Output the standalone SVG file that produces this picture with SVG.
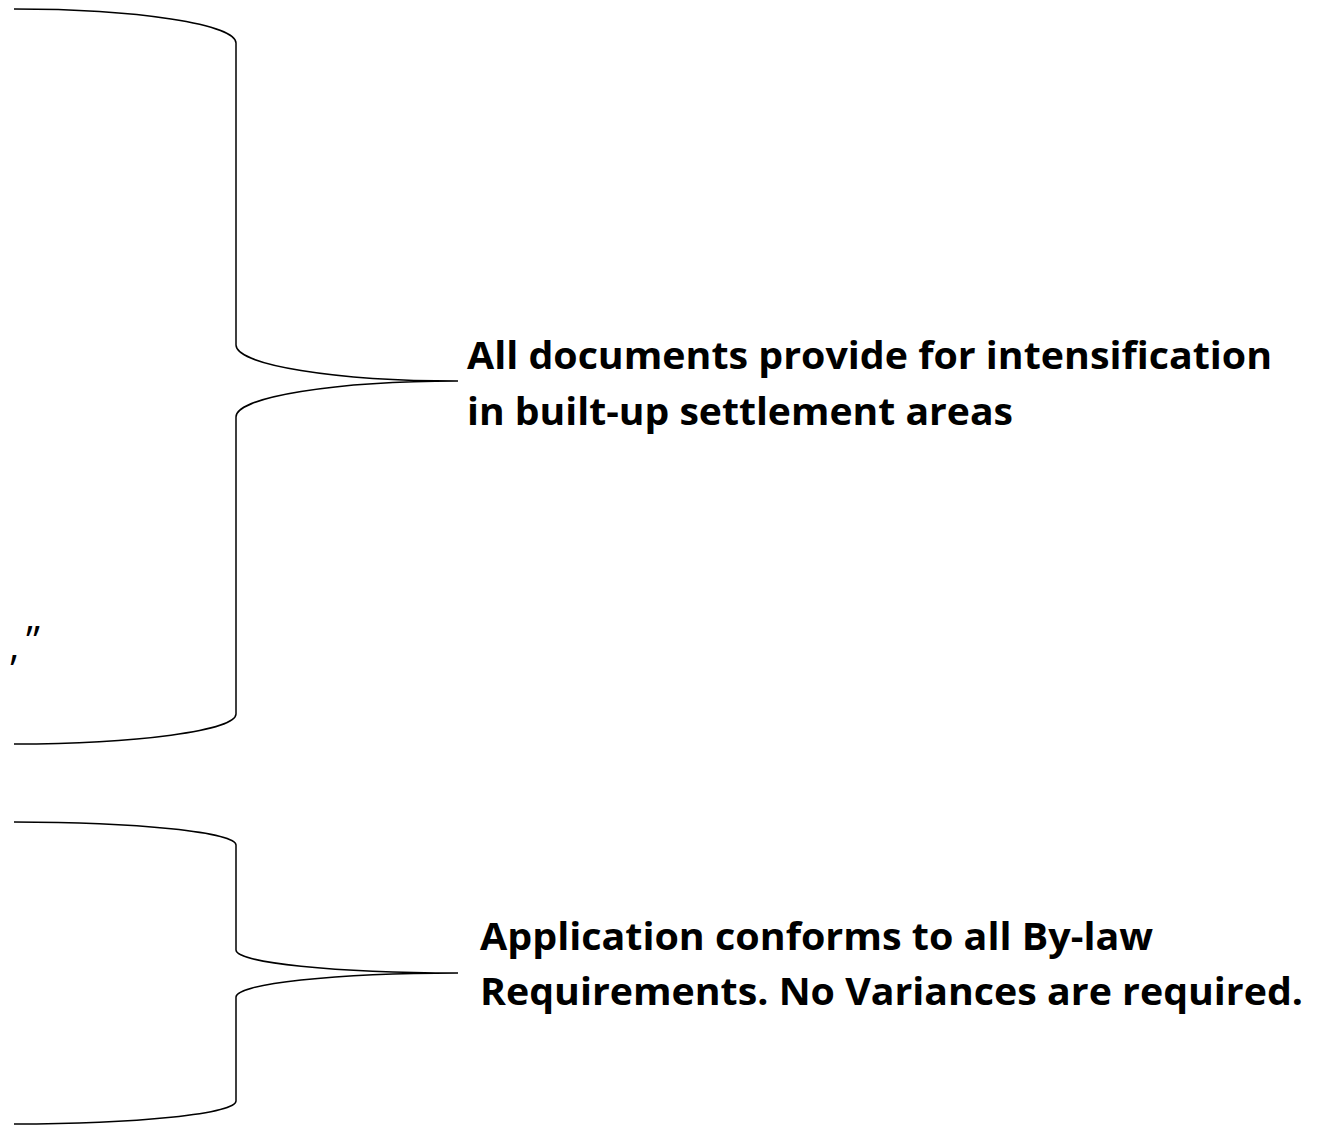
<svg xmlns="http://www.w3.org/2000/svg" width="1319" height="1132" viewBox="0 0 1319 1132">
  <style>
    .brace { fill: none; stroke: #000; stroke-width: 1.5; }
    .lbl { font-family: "Open Sans", Lato, "Liberation Sans", sans-serif; font-weight: bold; font-size: 37px; fill: #000; }
    .frag { font-family: "Open Sans", Lato, "Liberation Sans", sans-serif; font-size: 40px; fill: #000; }
  </style>
  <rect width="1319" height="1132" fill="#fff"/>
  <g id="connectors">
    <path id="brace1" class="brace" d="M14,9 A222,34 0 0 1 236,43 L236,345 A222,36 0 0 0 458,381 A222,36 0 0 0 236,417 L236,714 A222,30 0 0 1 14,744"/>
    <path id="brace2" class="brace" d="M14,822 A222,23 0 0 1 236,845 L236,950 A222,23 0 0 0 458,973 A222,24 0 0 0 236,997 L236,1101 A222,23 0 0 1 14,1124"/>
  </g>
  <g id="fragments">
    <text class="frag" x="26" y="655">”</text>
    <text class="frag" x="9" y="660">,</text>
  </g>
  <g id="label1">
    <text class="lbl" x="467" y="369" textLength="805" lengthAdjust="spacingAndGlyphs">All documents provide for intensification</text>
    <text class="lbl" x="467" y="425" textLength="546" lengthAdjust="spacingAndGlyphs">in built-up settlement areas</text>
  </g>
  <g id="label2">
    <text class="lbl" x="480" y="950" textLength="673" lengthAdjust="spacingAndGlyphs">Application conforms to all By-law</text>
    <text class="lbl" x="480" y="1005" textLength="823" lengthAdjust="spacingAndGlyphs">Requirements. No Variances are required.</text>
  </g>
</svg>
